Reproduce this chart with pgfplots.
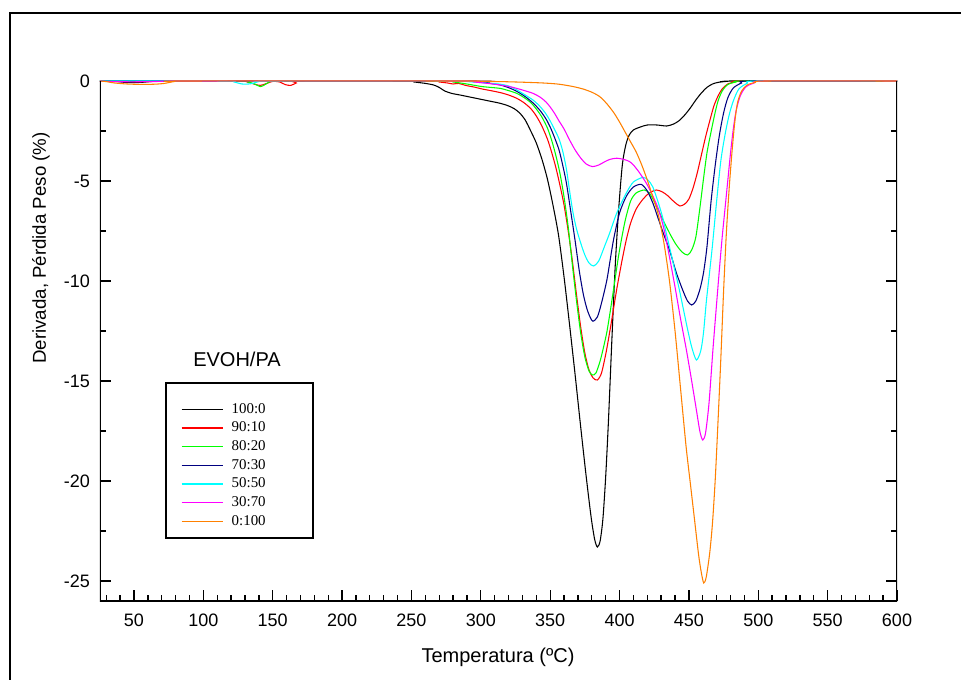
\documentclass[border=0pt]{standalone}
\usepackage{fontspec}
\setmainfont{Liberation Sans}
\newfontfamily\timesfont{Liberation Serif}
\usepackage{pgfplots}
\pgfplotsset{compat=1.18}
\definecolor{cBlack}{RGB}{0,0,0}
\definecolor{cRed}{RGB}{255,0,0}
\definecolor{cGreen}{RGB}{0,255,0}
\definecolor{cNavy}{RGB}{0,0,128}
\definecolor{cCyan}{RGB}{0,255,255}
\definecolor{cMag}{RGB}{255,0,255}
\definecolor{cOrange}{RGB}{255,128,0}
\begin{document}
\begin{tikzpicture}
\begin{scope}[x=0.75pt,y=0.75pt]
\useasboundingbox (0,0) rectangle (961,679);
\draw[line width=1.6pt] (10,-2) -- (10,666) -- (965,666);
\end{scope}
\begin{axis}[
 at={(75pt,58.5pt)}, anchor=south west,
 scale only axis, width=597.75pt, height=390pt,
 xmin=25.5, xmax=600, ymin=-26, ymax=0,
 xtick={50,100,...,600},
 minor xtick={30,40,60,70,80,90,110,120,130,140,160,170,180,190,210,220,230,240,260,270,280,290,310,320,330,340,360,370,380,390,410,420,430,440,460,470,480,490,510,520,530,540,560,570,580,590},
 ytick={-25,-20,-15,-10,-5,0}, yticklabels={-25,-20,-15,-10,-5,0},
 minor ytick={-22.5,-17.5,-12.5,-7.5,-2.5},
 tick align=inside, xtick pos=left, ytick pos=both, yticklabel pos=left,
 major tick length=8pt, minor tick length=4.5pt,
 every tick/.style={black, line width=1pt},
 axis line style={draw=none},
 /pgf/number format/assume math mode=true,
 tick label style={font=\fontsize{13.5}{16}\selectfont},
 xticklabel style={yshift=-6pt},
 yticklabel style={xshift=-4pt},
 legend style={draw=none, fill=none, at={(0.1013,0.3871)}, anchor=north west,
   inner sep=0pt, column sep=6pt, row sep=0pt,
   font=\timesfont\fontsize{11.2}{13}\selectfont,
   nodes={inner sep=0pt, minimum height=14pt}},
 legend cell align=left,
 legend image code/.code={\draw[#1, line width=0.8pt] (0pt,0pt) -- (31.2pt,0pt);},
 every axis plot/.append style={line width=0.8pt, smooth, tension=0.45},
]
% 100:0
\addplot[cBlack] coordinates {
(25.5,0) (38,-0.03) (45,-0.08) (55,-0.07) (65,-0.01) (75,0) (245,0) (252,-0.05) (260,-0.12) (266,-0.2) (270,-0.32) (274,-0.5) (279,-0.62) (285,-0.7) (292,-0.8) (299,-0.9) (306,-1.0) (313,-1.1) (319,-1.22) (324,-1.38) (328,-1.6) (332,-1.95) (336,-2.5) (340,-3.1) (344,-3.9) (348,-4.9) (352,-6.2) (356,-7.7) (360,-9.8) (364,-12.2) (368,-14.7) (372,-17.3) (376,-19.8) (379.5,-21.8) (382,-22.9) (384,-23.3) (386,-23.0) (388,-21.9) (390,-19.8) (392,-17.0) (394.5,-12.9) (397,-9.1) (399.5,-6.3) (402,-4.2) (404.5,-3.2) (407,-2.7) (410,-2.45) (415,-2.3) (420,-2.2) (427,-2.2) (434,-2.25) (439,-2.15) (443,-1.98) (447,-1.7) (451,-1.35) (455,-0.95) (459,-0.6) (463,-0.32) (467,-0.15) (471,-0.07) (477,-0.02) (485,0) (600,0)};
% 90:10
\addplot[cRed] coordinates {
(25.5,0) (45,-0.02) (60,-0.03) (75,0) (125,0) (132,-0.06) (137,-0.16) (141,-0.22) (145,-0.14) (150,-0.02) (155,-0.05) (159,-0.18) (163,-0.22) (167,-0.1) (171,0) (262,0) (270,-0.05) (276,-0.1) (280,-0.15) (284,-0.12) (289,-0.22) (295,-0.3) (301,-0.4) (307,-0.48) (314,-0.58) (320,-0.7) (326,-0.87) (331,-1.08) (336,-1.38) (340,-1.75) (344,-2.25) (348,-2.9) (351,-3.55) (354,-4.3) (357,-5.2) (360,-6.2) (363,-7.5) (366,-9.0) (369,-10.7) (372,-12.3) (375,-13.6) (378,-14.45) (381,-14.85) (384,-14.95) (387,-14.6) (390.5,-13.5) (394,-12.1) (398,-10.4) (402,-8.9) (405,-7.9) (408,-7.1) (412,-6.4) (417,-5.9) (421.5,-5.6) (426.5,-5.45) (431,-5.55) (435,-5.75) (439.5,-6.05) (443.5,-6.25) (447,-6.15) (450,-5.9) (453,-5.35) (456,-4.6) (459,-3.7) (462,-2.8) (465,-2.0) (468,-1.25) (471,-0.75) (474,-0.4) (478,-0.15) (483,-0.05) (490,0) (600,0)};
% 80:20
\addplot[cGreen] coordinates {
(25.5,0) (125,0) (132,-0.05) (137,-0.15) (141,-0.28) (144,-0.2) (148,-0.03) (152,0) (270,0) (280,-0.05) (290,-0.15) (300,-0.27) (307,-0.32) (314,-0.37) (320,-0.48) (326,-0.62) (331,-0.82) (336,-1.08) (340,-1.4) (344,-1.8) (348,-2.35) (351,-2.95) (354,-3.7) (357,-4.6) (360,-5.8) (363,-7.3) (366,-9.2) (369,-11.0) (372,-12.6) (375,-13.8) (378,-14.5) (380.5,-14.7) (383,-14.6) (386,-14.0) (388.5,-13.3) (391,-12.5) (394,-11.2) (397,-9.8) (400,-8.45) (404,-7.0) (408,-6.0) (412,-5.6) (418,-5.45) (422,-5.65) (426.5,-6.25) (431,-6.9) (436,-7.6) (440.5,-8.15) (445,-8.55) (449,-8.7) (452,-8.45) (455,-7.8) (458,-6.3) (460.5,-4.9) (463,-3.6) (465.5,-2.7) (468.5,-1.7) (471,-1.0) (474,-0.5) (478,-0.18) (484,-0.05) (492,0) (600,0)};
% 70:30
\addplot[cNavy] coordinates {
(25.5,0) (290,0) (300,-0.05) (307,-0.12) (314,-0.2) (320,-0.33) (326,-0.52) (332,-0.78) (338,-1.12) (343,-1.5) (347,-1.9) (350,-2.3) (353,-2.8) (356.4,-3.45) (359,-4.2) (361.7,-5.1) (365,-6.6) (368,-8.0) (371,-9.5) (374,-10.7) (377,-11.5) (380.5,-12.0) (384,-11.8) (387,-11.1) (391,-9.9) (395.5,-8.0) (400,-6.6) (405,-5.75) (410,-5.3) (415.7,-5.17) (420,-5.5) (424,-6.1) (428,-6.9) (432,-7.7) (436,-8.45) (441,-9.6) (445.8,-10.5) (449,-11.0) (452,-11.2) (455,-11.0) (458,-10.4) (460.5,-9.6) (463,-8.3) (466,-6.0) (469,-4.2) (472,-2.7) (475,-1.6) (478,-0.85) (482,-0.35) (488,-0.1) (495,0) (600,0)};
% 50:50
\addplot[cCyan] coordinates {
(25.5,0) (115,0) (122,-0.05) (128,-0.15) (134,-0.14) (140,-0.03) (145,0) (280,0) (290,-0.03) (300,-0.08) (307,-0.12) (314,-0.16) (320,-0.25) (326,-0.45) (332,-0.7) (338,-0.97) (343,-1.3) (347,-1.65) (350,-2.0) (353,-2.4) (356.4,-2.9) (359,-3.5) (361.7,-4.4) (364,-5.5) (366.5,-6.6) (369,-7.4) (372,-8.1) (375,-8.7) (378,-9.1) (381.4,-9.25) (385,-9.0) (389,-8.3) (392.9,-7.6) (398,-6.6) (404.9,-5.6) (410,-5.05) (416.9,-4.82) (420.5,-4.95) (424,-5.3) (428,-6.1) (431,-6.8) (434,-7.7) (437,-8.6) (440,-9.5) (443,-10.4) (446,-11.4) (449,-12.4) (452,-13.3) (455.4,-13.95) (458.5,-13.5) (460.5,-12.6) (462.6,-11.0) (465,-9.5) (467,-8.2) (470,-6.0) (473,-4.0) (476,-2.7) (479,-1.7) (482,-1.0) (486,-0.4) (492,-0.12) (500,0) (600,0)};
% 30:70
\addplot[cMag] coordinates {
(25.5,0) (35,-0.03) (50,-0.04) (70,-0.02) (85,0) (285,0) (295,-0.05) (305,-0.12) (314,-0.2) (322,-0.3) (330,-0.45) (337.7,-0.62) (343,-0.82) (347,-1.05) (350,-1.3) (353,-1.6) (356.4,-2.0) (360,-2.4) (364,-2.95) (368,-3.45) (372,-3.85) (376,-4.15) (380.5,-4.28) (385,-4.2) (389,-4.05) (393,-3.92) (398,-3.86) (403,-3.92) (407,-4.02) (410,-4.2) (414,-4.55) (419.4,-5.12) (424,-5.75) (428,-6.4) (432,-7.4) (436,-8.8) (440,-10.3) (444,-11.9) (448.2,-13.45) (452,-15.0) (455.4,-16.45) (458,-17.55) (460,-17.95) (462,-17.6) (464.5,-16.1) (467.3,-13.45) (470,-11.1) (472,-9.4) (474,-7.8) (476,-6.4) (478,-5.0) (480,-3.6) (482,-2.4) (484,-1.5) (487,-0.75) (491,-0.3) (497,-0.1) (505,0) (600,0)};
% 0:100
\addplot[cOrange] coordinates {
(25.5,0) (30,-0.03) (36,-0.1) (45,-0.15) (55,-0.17) (65,-0.16) (72,-0.12) (78,-0.04) (85,0) (290,0) (300,-0.02) (314,-0.03) (330,-0.06) (345,-0.1) (355,-0.15) (362,-0.22) (368,-0.3) (373.7,-0.4) (380,-0.56) (385.7,-0.78) (391,-1.15) (396,-1.6) (400,-2.05) (404,-2.55) (408,-3.05) (412,-3.55) (416,-4.2) (420,-4.95) (424,-5.8) (428,-6.7) (432,-8.1) (436,-10.0) (440,-12.5) (444,-15.4) (448,-18.3) (451,-20.1) (454,-21.9) (457,-23.7) (459,-24.6) (460.7,-25.1) (462.5,-24.8) (465,-23.6) (467,-22.1) (469,-19.9) (471,-17.0) (473,-13.9) (475,-10.5) (477,-7.6) (479,-5.4) (481,-3.6) (483,-2.1) (485,-1.1) (488,-0.5) (492,-0.2) (498,-0.07) (506,0) (600,0)};
\legend{100:0,90:10,80:20,70:30,50:50,30:70,0:100}
\draw[line width=1.5pt, line join=miter] (rel axis cs:0,1) -- (rel axis cs:0,0) -- (rel axis cs:1,0) -- (rel axis cs:1,1);
\end{axis}
\begin{scope}[x=0.75pt,y=0.75pt]
\draw[line width=1.1pt] (166,141) rectangle (313,296);
\node[font=\fontsize{15}{18}\selectfont] at (237,320) {EVOH/PA};
\node[font=\fontsize{15}{18}\selectfont] at (498,22) {Temperatura (ºC)};
\node[font=\fontsize{14}{17}\selectfont, rotate=90] at (41,431) {Derivada, Pérdida Peso (\%)};
\end{scope}
\end{tikzpicture}
\end{document}
